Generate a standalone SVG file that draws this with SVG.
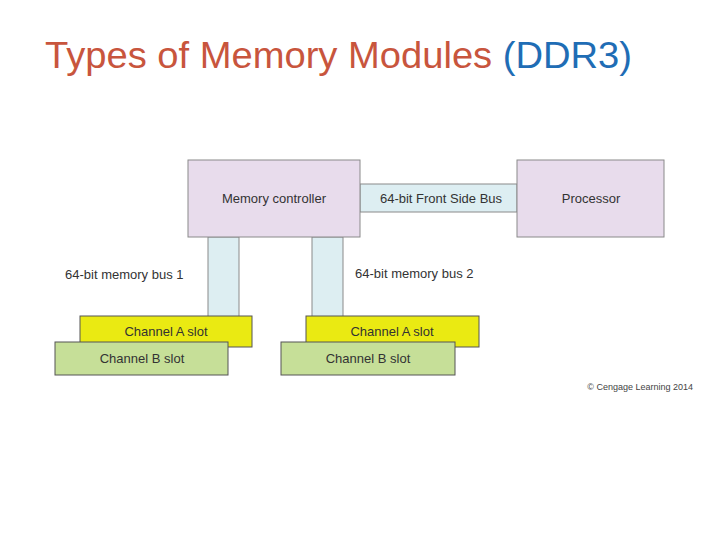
<svg xmlns="http://www.w3.org/2000/svg" width="720" height="540" viewBox="0 0 720 540">
<style>
text{font-family:"Liberation Sans",Arial,sans-serif}
.box{fill:#e8dcec;stroke:#8a8a8a;stroke-width:1}
.bus{fill:#ddeef2;stroke:#8a8a8a;stroke-width:1}
.a{fill:#eaea12;stroke:#555;stroke-width:1}
.b{fill:#c6df98;stroke:#555;stroke-width:1}
.t{font-size:13px;fill:#333;text-anchor:middle}
.l{font-size:13px;fill:#333}
</style>
<rect width="720" height="540" fill="#fff"/>
<text x="45" y="68" font-size="36" textLength="587" lengthAdjust="spacingAndGlyphs" fill="#c8553d">Types of Memory Modules <tspan fill="#1f6db5">(DDR3)</tspan></text>
<g id="connectors">
<rect class="bus" x="360" y="184" width="157" height="28"/>
<rect class="bus" x="208" y="237" width="31" height="80"/>
<rect class="bus" x="312" y="237" width="31" height="80"/>
</g>
<text class="t" x="441" y="203">64-bit Front Side Bus</text>
<g id="memctrl"><rect class="box" x="188" y="160" width="172" height="77"/><text class="t" x="274" y="203">Memory controller</text></g>
<g id="processor"><rect class="box" x="517" y="160" width="147" height="77"/><text class="t" x="591" y="203">Processor</text></g>
<text class="l" x="65" y="279">64-bit memory bus 1</text>
<text class="l" x="355" y="278">64-bit memory bus 2</text>
<g id="a1"><rect class="a" x="80" y="316" width="172" height="31"/><text class="t" x="166" y="336">Channel A slot</text></g>
<g id="b1"><rect class="b" x="55" y="342" width="173" height="33"/><text class="t" x="142" y="363">Channel B slot</text></g>
<g id="a2"><rect class="a" x="306" y="316" width="173" height="31"/><text class="t" x="392" y="336">Channel A slot</text></g>
<g id="b2"><rect class="b" x="281" y="342" width="174" height="33"/><text class="t" x="368" y="363">Channel B slot</text></g>
<text x="693" y="390" font-size="9" fill="#444" text-anchor="end">© Cengage Learning 2014</text>
</svg>
